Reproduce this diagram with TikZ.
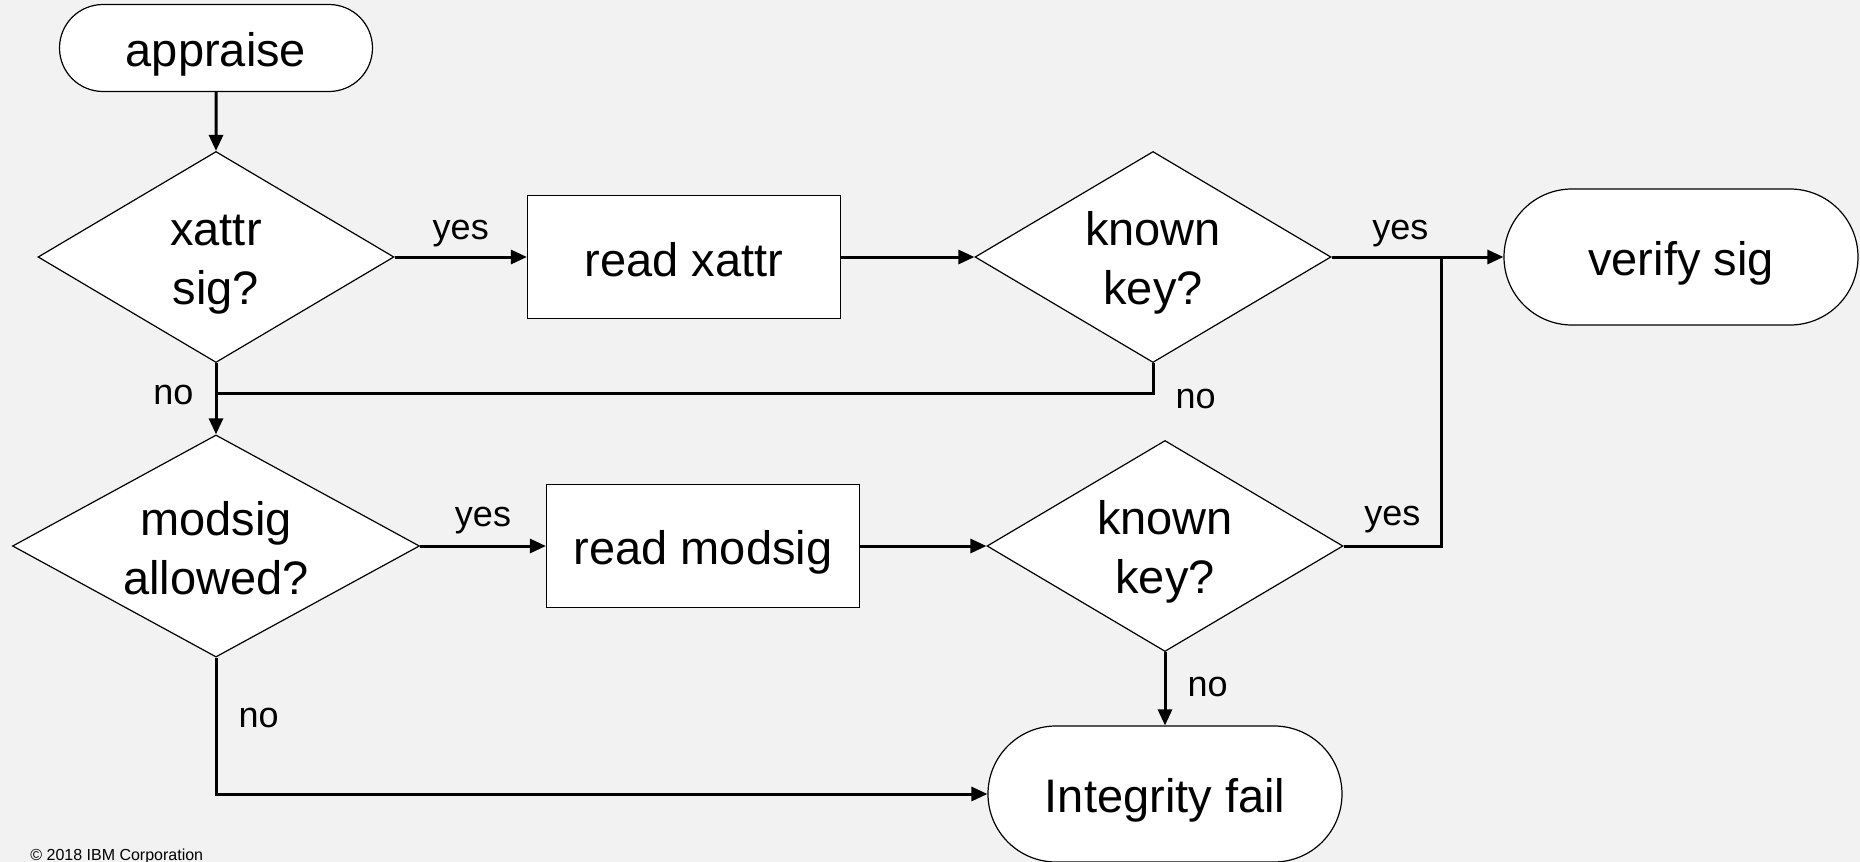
\documentclass[tikz,border=0pt]{standalone}
\usepackage{fontspec}
\setmainfont{Liberation Sans}
\usetikzlibrary{shapes.geometric,shapes.misc,arrows.meta}
\definecolor{slide}{HTML}{F2F2F2}
% fixed line height, so every box text sits the same way
\newcommand\tstrut{\rule[-4pt]{0pt}{27pt}}
\tikzset{
  shapebase/.style={draw, fill=white, line width=0.6pt, inner sep=0pt, align=center,
    font=\fontsize{23.5}{29.5}\selectfont},
  term/.style={shapebase, rounded rectangle, minimum width=177pt, minimum height=68pt},
  proc/.style={shapebase, rectangle, minimum width=156.5pt, minimum height=61.5pt},
  test/.style={shapebase, diamond, aspect=1.7, minimum width=178pt, minimum height=105.5pt},
  flow/.style={line width=1.5pt, -{Triangle[length=8pt,width=7pt]}},
  wire/.style={line width=1.5pt},
  lbl/.style={inner sep=0pt, font=\fontsize{18}{21}\selectfont}
}
\begin{document}
\begin{tikzpicture}[x=0.5pt, y=-0.5pt, line join=miter]
    \fill[slide] (0,0) rectangle (1860,862);
    \useasboundingbox (0,0) rectangle (1860,862);

    \node[term, minimum width=156.5pt, minimum height=43.5pt] (appraise) at (216,48) {\tstrut appraise};
    \node[test] (xsig) at (216,257) {\tstrut xattr\\\tstrut sig?};
    \node[proc] (rdxattr) at (684,257) {\tstrut read xattr};
    \node[test] (knownA) at (1153,257) {\tstrut known\\\tstrut key?};
    \node[term] (verify) at (1681,257) {\tstrut verify sig};
    \node[test, minimum width=203.5pt] (modok) at (216,546) {\tstrut modsig\\\tstrut allowed?};
    \node[proc] (rdmod) at (703,546) {\tstrut read modsig};
    \node[test] (knownB) at (1165,546) {\tstrut known\\\tstrut key?};
    \node[term] (fail) at (1165,794) {\tstrut Integrity fail};
    \coordinate (merge) at (1441,257);

    % xattr branch
    \draw[flow] (appraise) -- (xsig);
    \draw[flow] (xsig.east) -- node[lbl, above=4.5pt] (yesA) {yes} (rdxattr.west);
    \draw[flow] (rdxattr.east) -- (knownA.west);
    \draw[flow] (knownA.east) -- node[lbl, above=4.5pt, pos=0.4] (yesB) {yes} (verify.west);
    \draw[flow] (xsig.south) -- node[lbl, left=10.5pt, pos=0.45] (noA) {no} (modok.north);
    \draw[wire] (knownA.south) -- node[lbl, right=10.5pt, pos=1.2] (noB) {no} ++(0,30) coordinate (knownAno)
        -- (knownAno -| xsig.south);

    % modsig branch
    \draw[flow] (modok.east) -- node[lbl, above=5.5pt] (yesC) {yes} (rdmod.west);
    \draw[flow] (rdmod.east) -- (knownB.west);
    \draw[wire] (knownB.east) -- node[lbl, above=6pt] (yesD) {yes} (knownB.east -| merge) -- (merge);
    \draw[flow] (knownB.south) -- node[lbl, right=10.5pt, pos=0.47] (noC) {no} (fail.north);
    \draw[flow] (modok.south) |- node[lbl, right=10.5pt, pos=0.22] (noD) {no} (fail.west);

    \node[anchor=base west, inner sep=0pt, font=\fontsize{8}{9.6}\selectfont] (copyr) at (30,860) {© 2018 IBM Corporation};
\end{tikzpicture}
\end{document}
